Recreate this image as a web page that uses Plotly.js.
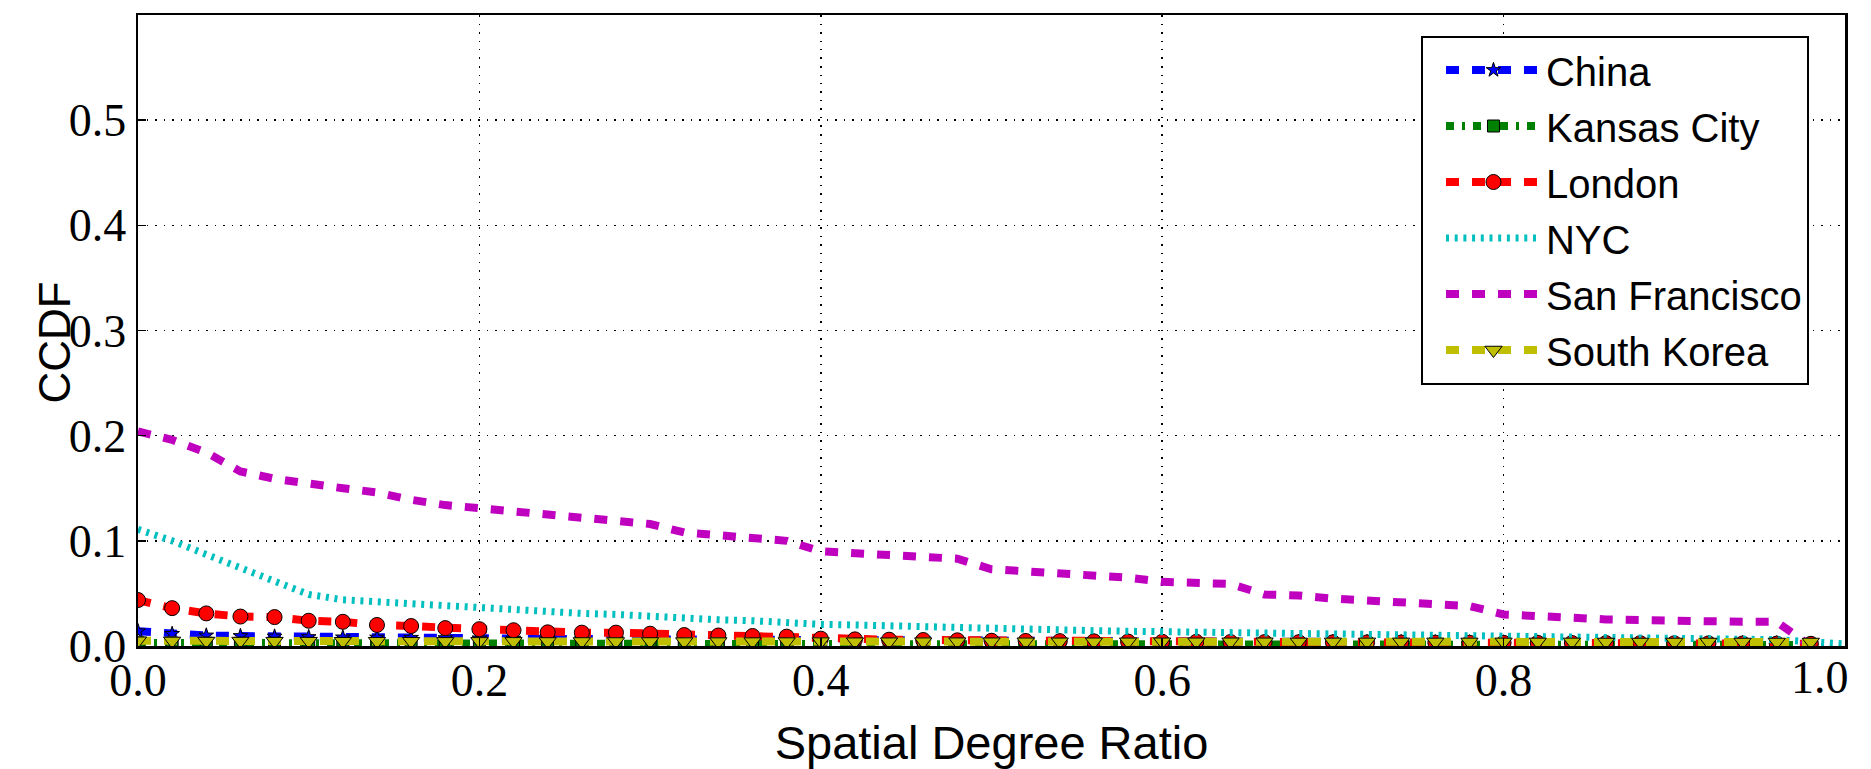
<!DOCTYPE html>
<html>
<head>
<meta charset="utf-8">
<script src="https://cdn.plot.ly/plotly-3.0.1.min.js"></script>
<style>
  html, body { margin: 0; padding: 0; background: #fff; }
  #chart { width: 1871px; height: 769px; }
</style>
</head>
<body>
<div id="chart"></div>
<script>
// x positions (Spatial Degree Ratio), one marker per point
const xRatio = [0.00,0.02,0.04,0.06,0.08,0.10,0.12,0.14,0.16,0.18,
                0.20,0.22,0.24,0.26,0.28,0.30,0.32,0.34,0.36,0.38,
                0.40,0.42,0.44,0.46,0.48,0.50,0.52,0.54,0.56,0.58,
                0.60,0.62,0.64,0.66,0.68,0.70,0.72,0.74,0.76,0.78,
                0.80,0.82,0.84,0.86,0.88,0.90,0.92,0.94,0.96,0.98];
const xRatioNYC = xRatio.concat([1.00]);

const seriesNames = ["China", "Kansas City", "London", "NYC", "San Francisco", "South Korea"];

const chinaCCDF = [0.0140,0.0115,0.0100,0.0095,0.0090,0.0085,0.0082,0.0080,0.0078,0.0075,
                   0.0072,0.0070,0.0068,0.0066,0.0065,0.0063,0.0061,0.0060,0.0058,0.0056,
                   0.0055,0.0053,0.0052,0.0050,0.0049,0.0048,0.0047,0.0046,0.0045,0.0044,
                   0.0043,0.0042,0.0041,0.0040,0.0039,0.0038,0.0037,0.0036,0.0035,0.0034,
                   0.0033,0.0032,0.0031,0.0030,0.0029,0.0028,0.0027,0.0026,0.0025,0.0022];
const kansasCCDF = [0.0030,0.0028,0.0027,0.0026,0.0026,0.0025,0.0025,0.0024,0.0024,0.0023,
                    0.0023,0.0022,0.0022,0.0021,0.0021,0.0020,0.0020,0.0020,0.0019,0.0019,
                    0.0019,0.0018,0.0018,0.0018,0.0017,0.0017,0.0017,0.0016,0.0016,0.0016,
                    0.0015,0.0015,0.0015,0.0015,0.0014,0.0014,0.0014,0.0014,0.0013,0.0013,
                    0.0013,0.0013,0.0012,0.0012,0.0012,0.0012,0.0011,0.0011,0.0011,0.0010];
const londonCCDF = [0.0437,0.0360,0.0310,0.0280,0.0275,0.0240,0.0230,0.0200,0.0190,0.0170,
                    0.0160,0.0150,0.0130,0.0127,0.0127,0.0117,0.0104,0.0100,0.0095,0.0089,
                    0.0070,0.0063,0.0060,0.0057,0.0054,0.0050,0.0048,0.0046,0.0044,0.0042,
                    0.0040,0.0040,0.0038,0.0037,0.0036,0.0035,0.0034,0.0033,0.0032,0.0031,
                    0.0030,0.0030,0.0029,0.0028,0.0027,0.0026,0.0025,0.0024,0.0023,0.0021];
const nycCCDF = [0.111,0.100,0.087,0.074,0.062,0.049,0.044,0.042,0.040,0.038,
                 0.036,0.035,0.032,0.031,0.030,0.028,0.026,0.025,0.024,0.022,
                 0.0206,0.020,0.019,0.018,0.0174,0.017,0.016,0.015,0.0146,0.014,
                 0.0136,0.013,0.0125,0.012,0.0115,0.011,0.0105,0.010,0.0095,0.009,
                 0.008,0.008,0.0078,0.0075,0.0072,0.007,0.0068,0.0065,0.006,0.004,
                 0.002];
const sfCCDF = [0.204,0.196,0.184,0.166,0.159,0.154,0.150,0.146,0.139,0.134,
                0.131,0.128,0.124,0.122,0.119,0.116,0.108,0.105,0.103,0.100,
                0.090,0.088,0.086,0.084,0.083,0.073,0.071,0.070,0.068,0.065,
                0.061,0.0595,0.059,0.049,0.048,0.045,0.0437,0.042,0.0405,0.038,
                0.030,0.028,0.0266,0.0253,0.0247,0.0237,0.023,0.023,0.023,0.000];
const koreaCCDF = [0.0050,0.0048,0.0047,0.0047,0.0046,0.0046,0.0045,0.0045,0.0045,0.0044,
                   0.0044,0.0044,0.0043,0.0043,0.0043,0.0043,0.0042,0.0042,0.0042,0.0042,
                   0.0042,0.0041,0.0041,0.0041,0.0041,0.0041,0.0040,0.0040,0.0040,0.0040,
                   0.0040,0.0040,0.0040,0.0040,0.0039,0.0039,0.0039,0.0039,0.0039,0.0039,
                   0.0039,0.0039,0.0039,0.0038,0.0038,0.0038,0.0038,0.0038,0.0038,0.0038];

const yTicks = [0.0, 0.1, 0.2, 0.3, 0.4, 0.5];
const xTicks = [0.0, 0.2, 0.4, 0.6, 0.8, 1.0];
const xTickLabels = xTicks.map(v => v.toFixed(1));
const yTickLabels = yTicks.map(v => v.toFixed(1));
const xTitle = 'Spatial Degree Ratio';
const yTitle = 'CCDF';

function mk(name, x, y, color, width, dash, symbol, msize) {
  const t = {
    type: 'scatter',
    mode: symbol ? 'lines+markers' : 'lines',
    name: name,
    legendgroup: name,
    x: x, y: y,
    line: {color: color, width: width, dash: dash},
    cliponaxis: true
  };
  if (symbol) {
    t.marker = {symbol: symbol, size: msize, color: color, line: {color: '#000', width: 1}};
  }
  return t;
}

const traces = [
  mk(seriesNames[0], xRatio, chinaCCDF, '#0000ff', 8, '13px,13px', 'star', 11),
  mk(seriesNames[1], xRatio, kansasCCDF, '#008000', 8, '8px,8px,3px,8px', 'square', 12),
  mk(seriesNames[2], xRatio, londonCCDF, '#ff0000', 8, '13px,13px', 'circle', 15),
  mk(seriesNames[3], xRatioNYC, nycCCDF, '#00bfbf', 7, '3px,5.7px', null, 0),
  mk(seriesNames[4], xRatio, sfCCDF, '#bf00bf', 8, '13px,13px', null, 0),
  mk(seriesNames[5], xRatio, koreaCCDF, '#bfbf00', 8, '13px,13px', 'triangle-down', 15)
];

const tickFont = {family: 'Liberation Serif, DejaVu Serif, serif', size: 46, color: '#000'};
const titleFont = {family: 'Liberation Sans, Arial, sans-serif', size: 47, color: '#000'};

// last x tick label is drawn as an annotation so it stays inside the page (as in the reference)
const lastIdx = xTicks.length - 1;
const shownXTickText = xTickLabels.map((t, i) => i === lastIdx ? '' : t);

const layout = {
  width: 1871, height: 769,
  margin: {l: 138, r: 26, t: 15, b: 123, pad: 0},
  paper_bgcolor: '#fff', plot_bgcolor: '#fff',
  showlegend: true,
  legend: {
    x: 0.7516, y: 0.9675, xanchor: 'left', yanchor: 'top',
    bgcolor: '#fff', bordercolor: '#000', borderwidth: 2,
    font: {family: 'Liberation Sans, Arial, sans-serif', size: 40, color: '#000'},
    itemwidth: 95, indentation: 18, tracegroupgap: 1, itemsizing: 'trace'
  },
  xaxis: {
    range: [0, 1], tickvals: xTicks, ticktext: shownXTickText,
    showline: true, linecolor: '#000', linewidth: 2.5, mirror: true,
    ticks: 'inside', ticklen: 8, tickwidth: 1.5, tickcolor: '#000',
    ticklabelstandoff: -8,
    showgrid: true, gridcolor: '#000', gridwidth: 1.5, griddash: '1.5px,7px',
    zeroline: false, tickfont: tickFont,
    title: {text: xTitle, font: titleFont, standoff: 29}
  },
  yaxis: {
    range: [0, 0.6], tickvals: yTicks, ticktext: yTickLabels,
    showline: true, linecolor: '#000', linewidth: 2.5, mirror: true,
    ticks: 'inside', ticklen: 8, tickwidth: 1.5, tickcolor: '#000',
    showgrid: true, gridcolor: '#000', gridwidth: 1.5, griddash: '1.5px,7px',
    zeroline: false, tickfont: tickFont
  },
  annotations: [
    {
      text: xTickLabels[lastIdx], x: xTicks[lastIdx], xref: 'x', y: 0, yref: 'paper',
      xanchor: 'right', yanchor: 'top', xshift: 6, yshift: -4,
      showarrow: false, font: tickFont
    },
    {
      text: yTitle, x: -0.0492, xref: 'paper', y: 0.481, yref: 'paper',
      xanchor: 'center', yanchor: 'middle', textangle: -90,
      showarrow: false, font: {family: 'Liberation Sans, Arial, sans-serif', size: 44, color: '#000'}
    }
  ]
};

Plotly.newPlot('chart', traces, layout, {displayModeBar: false, staticPlot: true});
</script>
</body>
</html>
